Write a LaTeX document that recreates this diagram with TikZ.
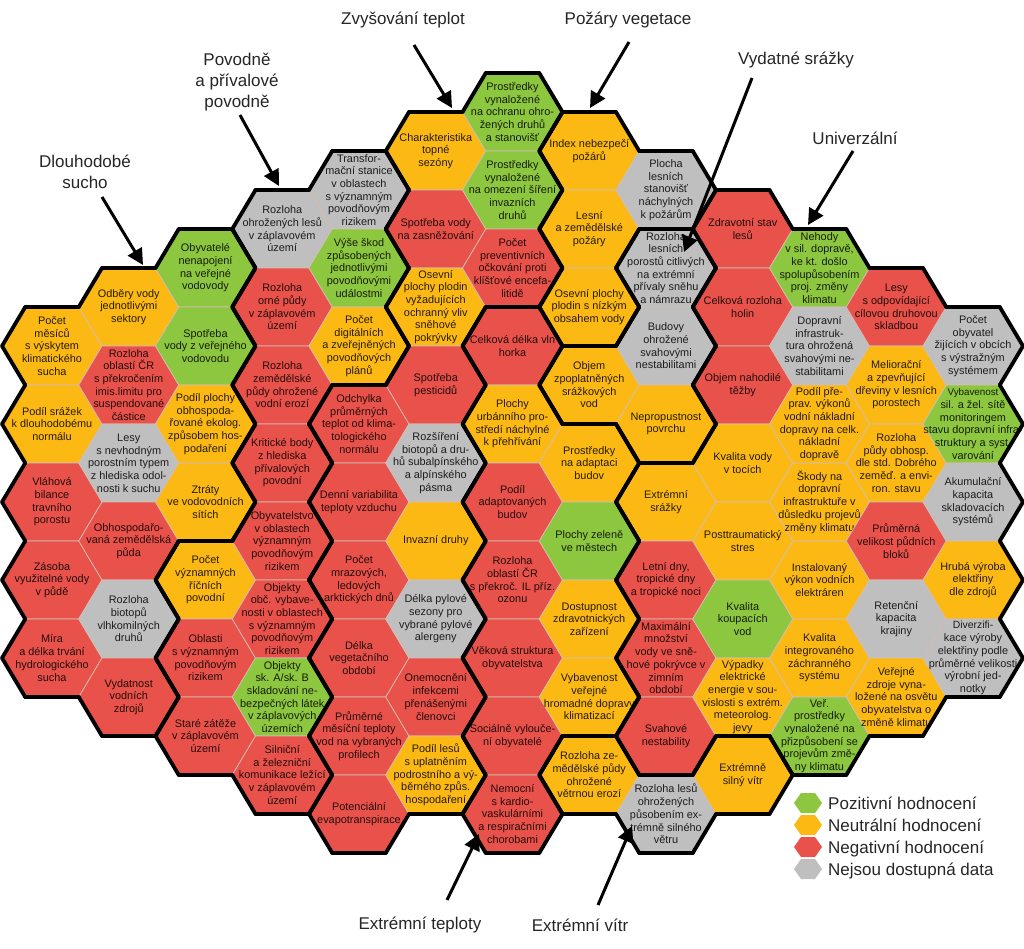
\documentclass[tikz,border=0pt]{standalone}
\usepackage{fontspec}
\setmainfont{Liberation Sans}
\usetikzlibrary{arrows.meta}
\definecolor{cg}{RGB}{141,198,63}
\definecolor{co}{RGB}{252,185,20}
\definecolor{cr}{RGB}{232,82,75}
\definecolor{cy}{RGB}{191,191,191}
\definecolor{thinc}{RGB}{210,190,180}
\def\celllist{}
\newcommand\hexcell[5]{%
  \pgfmathsetmacro\hcx{52+76.75*#1}%
  \pgfmathsetmacro\hcy{346+39*#2}%
  \expandafter\xdef\csname hg@#1@#2\endcsname{#3}%
  \ifx\celllist\empty\xdef\celllist{#1/#2}\else\xdef\celllist{\celllist,#1/#2}\fi
  \filldraw[fill=#4,thinb] ({\hcx-50},\hcy) -- ({\hcx-26.75},{\hcy-39}) -- ({\hcx+26.75},{\hcy-39}) -- ({\hcx+50},\hcy) -- ({\hcx+26.75},{\hcy+39}) -- ({\hcx-26.75},{\hcy+39}) -- cycle;
  \node[htext] (h#1x#2) at (\hcx,\hcy) {#5};%
}
\newcommand\edgecheck[6]{%
  \pgfmathtruncatemacro\nbc{#1}%
  \pgfmathtruncatemacro\nbk{#2}%
  \ifcsname hg@\nbc @\nbk\endcsname
    \edef\gb{\csname hg@\nbc @\nbk\endcsname}%
  \else
    \def\gb{none}%
  \fi
  \ifx\ga\gb\else
    \draw[thickb] ({#3},{#4}) -- ({#5},{#6});%
  \fi
}
\newcommand\leghex[2]{%
  \fill[#1] ({808-14},#2) -- ({808-7},{#2-10}) -- ({808+7},{#2-10}) -- ({808+14},#2) -- ({808+7},{#2+10}) -- ({808-7},{#2+10}) -- cycle;
}
\begin{document}
\begin{tikzpicture}[x=1pt,y=-1pt,
  thinb/.style={draw=thinc,line width=0.7pt},
  thickb/.style={draw=black,line width=3.8pt,line cap=round},
  htext/.style={align=center,font=\fontsize{10.9}{12.7}\selectfont,text=black,text opacity=0.85,inner sep=0pt},
  lab/.style={align=center,font=\fontsize{17}{21}\selectfont,text=black!85,inner sep=0pt},
  legt/.style={anchor=base west,font=\fontsize{17}{21}\selectfont,text=black!85,inner sep=0pt},
  arr/.style={line width=3pt,-{Triangle[length=16pt,width=16pt]}}]
\useasboundingbox[fill=white] (0,0) rectangle (1024,948);
% column 0
\hexcell{0}{0}{D}{co}{Počet\\měsíců\\s výskytem\\klimatického\\sucha}
\hexcell{0}{2}{D}{co}{Podíl srážek\\k dlouhodobému\\normálu}
\hexcell{0}{4}{D}{cr}{Vláhová\\bilance\\travního\\porostu}
\hexcell{0}{6}{D}{cr}{Zásoba\\využitelné vody\\v půdě}
\hexcell{0}{8}{D}{cr}{Míra\\a délka trvání\\hydrologického\\sucha}
% column 1
\hexcell{1}{-1}{D}{co}{Odběry vody\\jednotlivými\\sektory}
\hexcell{1}{1}{D}{cr}{Rozloha\\oblastí ČR\\s překročením\\imis.limitu pro\\suspendované\\částice}
\hexcell{1}{3}{D}{cy}{Lesy\\s nevhodným\\porostním typem\\z hlediska odol-\\nosti k suchu}
\hexcell{1}{5}{D}{cr}{Obhospodařo-\\vaná zemědělská\\půda}
\hexcell{1}{7}{D}{cy}{Rozloha\\biotopů\\vlhkomilných\\druhů}
\hexcell{1}{9}{D}{cr}{Vydatnost\\vodních\\zdrojů}
% column 2
\hexcell{2}{-2}{D}{cg}{Obyvatelé\\nenapojení\\na veřejné\\vodovody}
\hexcell{2}{0}{D}{cg}{Spotřeba\\vody z veřejného\\vodovodu}
\hexcell{2}{2}{D}{co}{Podíl plochy\\obhospoda-\\řované ekolog.\\způsobem hos-\\podaření}
\hexcell{2}{4}{D}{co}{Ztráty\\ve vodovodních\\sítích}
\hexcell{2}{6}{F}{co}{Počet\\významných\\říčních\\povodní}
\hexcell{2}{8}{F}{cr}{Oblasti\\s významným\\povodňovým\\rizikem}
\hexcell{2}{10}{F}{cr}{Staré zátěže\\v záplavovém\\území}
% column 3
\hexcell{3}{-3}{F}{cy}{Rozloha\\ohrožených lesů\\v záplavovém\\území}
\hexcell{3}{-1}{F}{cr}{Rozloha\\orné půdy\\v záplavovém\\území}
\hexcell{3}{1}{F}{cr}{Rozloha\\zemědělské\\půdy ohrožené\\vodní erozí}
\hexcell{3}{3}{F}{cr}{Kritické body\\z hlediska\\přívalových\\povodní}
\hexcell{3}{5}{F}{cr}{Obyvatelstvo\\v oblastech\\významným\\povodňovým\\rizikem}
\hexcell{3}{7}{F}{cr}{Objekty\\obč. vybave-\\nosti v oblastech\\s významným\\povodňovým\\rizikem}
\hexcell{3}{9}{F}{cg}{Objekty\\sk. A/sk. B\\skladování ne-\\bezpečných látek\\v záplavových\\územích}
\hexcell{3}{11}{F}{cr}{Silniční\\a železniční\\komunikace ležící\\v záplavovém\\území}
% column 4
\hexcell{4}{-4}{F}{cy}{Transfor-\\mační stanice\\v oblastech\\s významným\\povodňovým\\rizikem}
\hexcell{4}{-2}{F}{cg}{Výše škod\\způsobených\\jednotlivými\\povodňovými\\událostmi}
\hexcell{4}{0}{F}{co}{Počet\\digitálních\\a zveřejněných\\povodňových\\plánů}
\hexcell{4}{2}{T}{cr}{Odchylka\\průměrných\\teplot od klima-\\tologického\\normálu}
\hexcell{4}{4}{T}{cr}{Denní variabilita\\teploty vzduchu}
\hexcell{4}{6}{T}{cr}{Počet\\mrazových,\\ledových\\arktických dnů}
\hexcell{4}{8}{T}{cr}{Délka\\vegetačního\\období}
\hexcell{4}{10}{T}{cr}{Průměrné\\měsíční teploty\\vod na vybraných\\profilech}
\hexcell{4}{12}{T}{cr}{Potenciální\\evapotranspirace}
% column 5
\hexcell{5}{-5}{T}{co}{Charakteristika\\topné\\sezóny}
\hexcell{5}{-3}{T}{cr}{Spotřeba vody\\na zasněžování}
\hexcell{5}{-1}{T}{co}{Osevní\\plochy plodin\\vyžadujících\\ochranný vliv\\sněhové\\pokrývky}
\hexcell{5}{1}{T}{cr}{Spotřeba\\pesticidů}
\hexcell{5}{3}{T}{cy}{Rozšíření\\biotopů a dru-\\hů subalpínského\\a alpínského\\pásma}
\hexcell{5}{5}{T}{co}{Invazní druhy}
\hexcell{5}{7}{T}{cy}{Délka pylové\\sezony pro\\vybrané pylové\\alergeny}
\hexcell{5}{9}{T}{cr}{Onemocnění\\infekcemi\\přenášenými\\členovci}
\hexcell{5}{11}{T}{co}{Podíl lesů\\s uplatněním\\podrostního a vý-\\běrného způs.\\hospodaření}
% column 6
\hexcell{6}{-6}{T}{cg}{Prostředky\\vynaložené\\na ochranu ohro-\\žených druhů\\a stanovišť}
\hexcell{6}{-4}{T}{cg}{Prostředky\\vynaložené\\na omezení šíření\\invazních\\druhů}
\hexcell{6}{-2}{T}{cr}{Počet\\preventivních\\očkování proti\\klíšťové encefa-\\litidě}
\hexcell{6}{0}{E}{cr}{Celková délka vln\\horka}
\hexcell{6}{2}{E}{co}{Plochy\\urbánního pro-\\středí náchylné\\k přehřívání}
\hexcell{6}{4}{E}{cr}{Podíl\\adaptovaných\\budov}
\hexcell{6}{6}{E}{cr}{Rozloha\\oblastí ČR\\s překroč. IL příz.\\ozonu}
\hexcell{6}{8}{E}{cr}{Věková struktura\\obyvatelstva}
\hexcell{6}{10}{E}{cr}{Sociálně vylouče-\\ní obyvatelé}
\hexcell{6}{12}{E}{cr}{Nemocní\\s kardio-\\vaskulárními\\a respiračními\\chorobami}
% column 7
\hexcell{7}{-5}{P}{co}{Index nebezpečí\\požárů}
\hexcell{7}{-3}{P}{co}{Lesní\\a zemědělské\\požáry}
\hexcell{7}{-1}{P}{co}{Osevní plochy\\plodin s nízkým\\obsahem vody}
\hexcell{7}{1}{S}{co}{Objem\\zpoplatněných\\srážkových\\vod}
\hexcell{7}{3}{E}{co}{Prostředky\\na adaptaci\\budov}
\hexcell{7}{5}{E}{cg}{Plochy zeleně\\ve městech}
\hexcell{7}{7}{E}{co}{Dostupnost\\zdravotnických\\zařízení}
\hexcell{7}{9}{E}{co}{Vybavenost\\veřejné\\hromadné dopravy\\klimatizací}
\hexcell{7}{11}{W}{co}{Rozloha ze-\\mědělské půdy\\ohrožené\\větrnou erozí}
% column 8
\hexcell{8}{-4}{P}{cy}{Plocha\\lesních\\stanovišť\\náchylných\\k požárům}
\hexcell{8}{-2}{S}{cy}{Rozloha\\lesních\\porostů citlivých\\na extrémní\\přívaly sněhu\\a námrazu}
\hexcell{8}{0}{S}{cy}{Budovy\\ohrožené\\svahovými\\nestabilitami}
\hexcell{8}{2}{S}{co}{Nepropustnost\\povrchu}
\hexcell{8}{4}{U}{co}{Extrémní\\srážky}
\hexcell{8}{6}{U}{cr}{Letní dny,\\tropické dny\\a tropické noci}
\hexcell{8}{8}{U}{cr}{Maximální\\množství\\vody ve sně-\\hové pokrývce v\\zimním\\období}
\hexcell{8}{10}{U}{cr}{Svahové\\nestability}
\hexcell{8}{12}{W}{cy}{Rozloha lesů\\ohrožených\\působením ex-\\trémně silného\\větru}
% column 9
\hexcell{9}{-3}{U}{cr}{Zdravotní stav\\lesů}
\hexcell{9}{-1}{U}{cr}{Celková rozloha\\holin}
\hexcell{9}{1}{U}{cr}{Objem nahodilé\\těžby}
\hexcell{9}{3}{U}{co}{Kvalita vody\\v tocích}
\hexcell{9}{5}{U}{co}{Posttraumatický\\stres}
\hexcell{9}{7}{U}{cg}{Kvalita\\koupacích\\vod}
\hexcell{9}{9}{U}{co}{Výpadky\\elektrické\\energie v sou-\\vislosti s extrém.\\meteorolog.\\jevy}
\hexcell{9}{11}{W}{co}{Extrémně\\silný vítr}
% column 10
\hexcell{10}{-2}{U}{cg}{Nehody\\v sil. dopravě,\\ke kt. došlo\\spolupůsobením\\proj. změny\\klimatu}
\hexcell{10}{0}{U}{cy}{Dopravní\\infrastruk-\\tura ohrožená\\svahovými ne-\\stabilitami}
\hexcell{10}{2}{U}{co}{Podíl pře-\\prav. výkonů\\vodní nákladní\\dopravy na celk.\\nákladní\\dopravě}
\hexcell{10}{4}{U}{co}{Škody na\\dopravní\\infrastruktuře v\\důsledku projevů\\změny klimatu}
\hexcell{10}{6}{U}{co}{Instalovaný\\výkon vodních\\elektráren}
\hexcell{10}{8}{U}{co}{Kvalita\\integrovaného\\záchranného\\systému}
\hexcell{10}{10}{U}{cg}{Veř.\\prostředky\\vynaložené na\\přizpůsobení se\\projevům změ-\\ny klimatu}
% column 11
\hexcell{11}{-1}{U}{cr}{Lesy\\s odpovídající\\cílovou druhovou\\skladbou}
\hexcell{11}{1}{U}{co}{Meliorační\\a zpevňující\\dřeviny v lesních\\porostech}
\hexcell{11}{3}{U}{co}{Rozloha\\půdy obhosp.\\dle std. Dobrého\\zeměď. a envi-\\ron. stavu}
\hexcell{11}{5}{U}{cr}{Průměrná\\velikost půdních\\bloků}
\hexcell{11}{7}{U}{cy}{Retenční\\kapacita\\krajiny}
\hexcell{11}{9}{U}{co}{Veřejné\\zdroje vyna-\\ložené na osvětu\\obyvatelstva o\\změně klimatu}
% column 12
\hexcell{12}{0}{U}{cy}{Počet\\obyvatel\\žijících v obcích\\s výstražným\\systémem}
\hexcell{12}{2}{U}{cg}{\fontsize{9.8}{12.2}\selectfont Vybavenost\\sil. a žel. sítě\\monitoringem\\stavu dopravní infra-\\struktury a syst.\\varování}
\hexcell{12}{4}{U}{cy}{Akumulační\\kapacita\\skladovacích\\systémů}
\hexcell{12}{6}{U}{co}{Hrubá výroba\\elektřiny\\dle zdrojů}
\hexcell{12}{8}{U}{cy}{\fontsize{10.4}{12.6}\selectfont Diverzifi-\\kace výroby\\elektřiny podle\\průměrné velikosti\\výrobní jed-\\notky}
% group borders
\foreach \cc/\kk in \celllist {
  \pgfmathsetmacro\hcx{52+76.75*\cc}
  \pgfmathsetmacro\hcy{346+39*\kk}
  \edef\ga{\csname hg@\cc @\kk\endcsname}
  \edgecheck{\cc}{\kk-2}{\hcx-26.75}{\hcy-39}{\hcx+26.75}{\hcy-39}
  \edgecheck{\cc}{\kk+2}{\hcx-26.75}{\hcy+39}{\hcx+26.75}{\hcy+39}
  \edgecheck{\cc+1}{\kk-1}{\hcx+26.75}{\hcy-39}{\hcx+50}{\hcy}
  \edgecheck{\cc+1}{\kk+1}{\hcx+50}{\hcy}{\hcx+26.75}{\hcy+39}
  \edgecheck{\cc-1}{\kk-1}{\hcx-26.75}{\hcy-39}{\hcx-50}{\hcy}
  \edgecheck{\cc-1}{\kk+1}{\hcx-50}{\hcy}{\hcx-26.75}{\hcy+39}
}
% labels and arrows
\node[lab] (l1) at (85,172) {Dlouhodobé\\sucho};
\node[lab] (l2) at (237,82) {Povodně\\a přívalové\\povodně};
\node[lab] (l3) at (403,20) {Zvyšování teplot};
\node[lab] (l4) at (628,20) {Požáry vegetace};
\node[lab] (l5) at (796,60) {Vydatné srážky};
\node[lab] (l6) at (855,138) {Univerzální};
\node[lab] (l7) at (420,925) {Extrémní teploty};
\node[lab] (l8) at (580,925) {Extrémní vítr};
\coordinate (s1) at (102,197); \coordinate (e1) at (143,265);
\coordinate (s2) at (240,115); \coordinate (e2) at (279,186);
\coordinate (s3) at (414,45);  \coordinate (e3) at (452,108);
\coordinate (s4) at (629,42);  \coordinate (e4) at (590,108);
\coordinate (s5) at (752,78);  \coordinate (e5) at (684,252);
\coordinate (s6) at (853,151); \coordinate (e6) at (808,225);
\coordinate (s7) at (447,900); \coordinate (e7) at (479,834);
\coordinate (s8) at (598,905); \coordinate (e8) at (632,826);
\foreach \i in {1,...,8} { \draw[arr] (s\i) -- (e\i); }
% legend
\leghex{cg}{803}
\leghex{co}{825}
\leghex{cr}{847}
\leghex{cy}{869}
\node[legt] (g1) at (828,809) {Pozitivní hodnocení};
\node[legt] (g2) at (828,831) {Neutrální hodnocení};
\node[legt] (g3) at (828,853) {Negativní hodnocení};
\node[legt] (g4) at (828,875) {Nejsou dostupná data};
\end{tikzpicture}
\end{document}
